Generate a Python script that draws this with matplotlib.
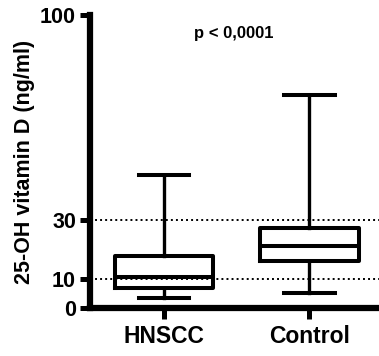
import matplotlib
matplotlib.use('Agg')
import matplotlib.pyplot as plt

plt.rcParams['font.family'] = ['Liberation Sans', 'DejaVu Sans']
plt.rcParams['font.weight'] = 'bold'

# Data
groups = ['HNSCC', 'Control']
whisker_low = [3.5, 5.0]
q1 = [6.7, 16.1]
median = [10.7, 21.2]
q3 = [17.7, 27.4]
whisker_high = [45.4, 72.7]
ref_lines = [10, 30]
yticks = [0, 10, 30, 100]

stats = []
for i, g in enumerate(groups):
    stats.append({'label': g, 'whislo': whisker_low[i], 'q1': q1[i],
                  'med': median[i], 'q3': q3[i], 'whishi': whisker_high[i]})

fig = plt.figure(figsize=(3.79, 3.56), dpi=100)
ax = fig.add_axes([0.2375, 0.135, 0.77, 0.823])

for v in ref_lines:
    ax.axhline(v, color='black', linestyle=(0, (1, 1.6)), linewidth=1.4, zorder=1)

lw = 2.9
ax.bxp(stats, positions=[1, 2], widths=0.68, capwidths=0.35, showfliers=False,
       boxprops=dict(linewidth=lw, color='black'),
       medianprops=dict(linewidth=lw, color='black'),
       whiskerprops=dict(linewidth=2.4, color='black'),
       capprops=dict(linewidth=2.9, color='black'))

ax.set_ylim(0, 100)
ax.set_xlim(0.49, 2.5)
ax.set_yticks(yticks)
ax.set_xticks([1, 2])
ax.set_xticklabels(groups, fontsize=16.5, fontweight='bold')
ax.tick_params(axis='y', labelsize=15.5, length=7, width=3.6, pad=3)
ax.tick_params(axis='x', length=8, width=3.6, pad=4)
for lab in ax.get_yticklabels():
    lab.set_fontweight('bold')

ax.spines['top'].set_visible(False)
ax.spines['right'].set_visible(False)
ax.spines['left'].set_linewidth(4.5)
ax.spines['bottom'].set_linewidth(4.5)
ax.spines['left'].set_capstyle('projecting')
ax.spines['bottom'].set_capstyle('projecting')

ax.set_ylabel('25-OH vitamin D (ng/ml)', fontsize=15.5, fontweight='bold', labelpad=4)
ax.text(0.355, 0.935, 'p < 0,0001', transform=ax.transAxes, fontsize=12,
        fontweight='bold', ha='left', va='center')

fig.savefig('out.png', dpi=100)
